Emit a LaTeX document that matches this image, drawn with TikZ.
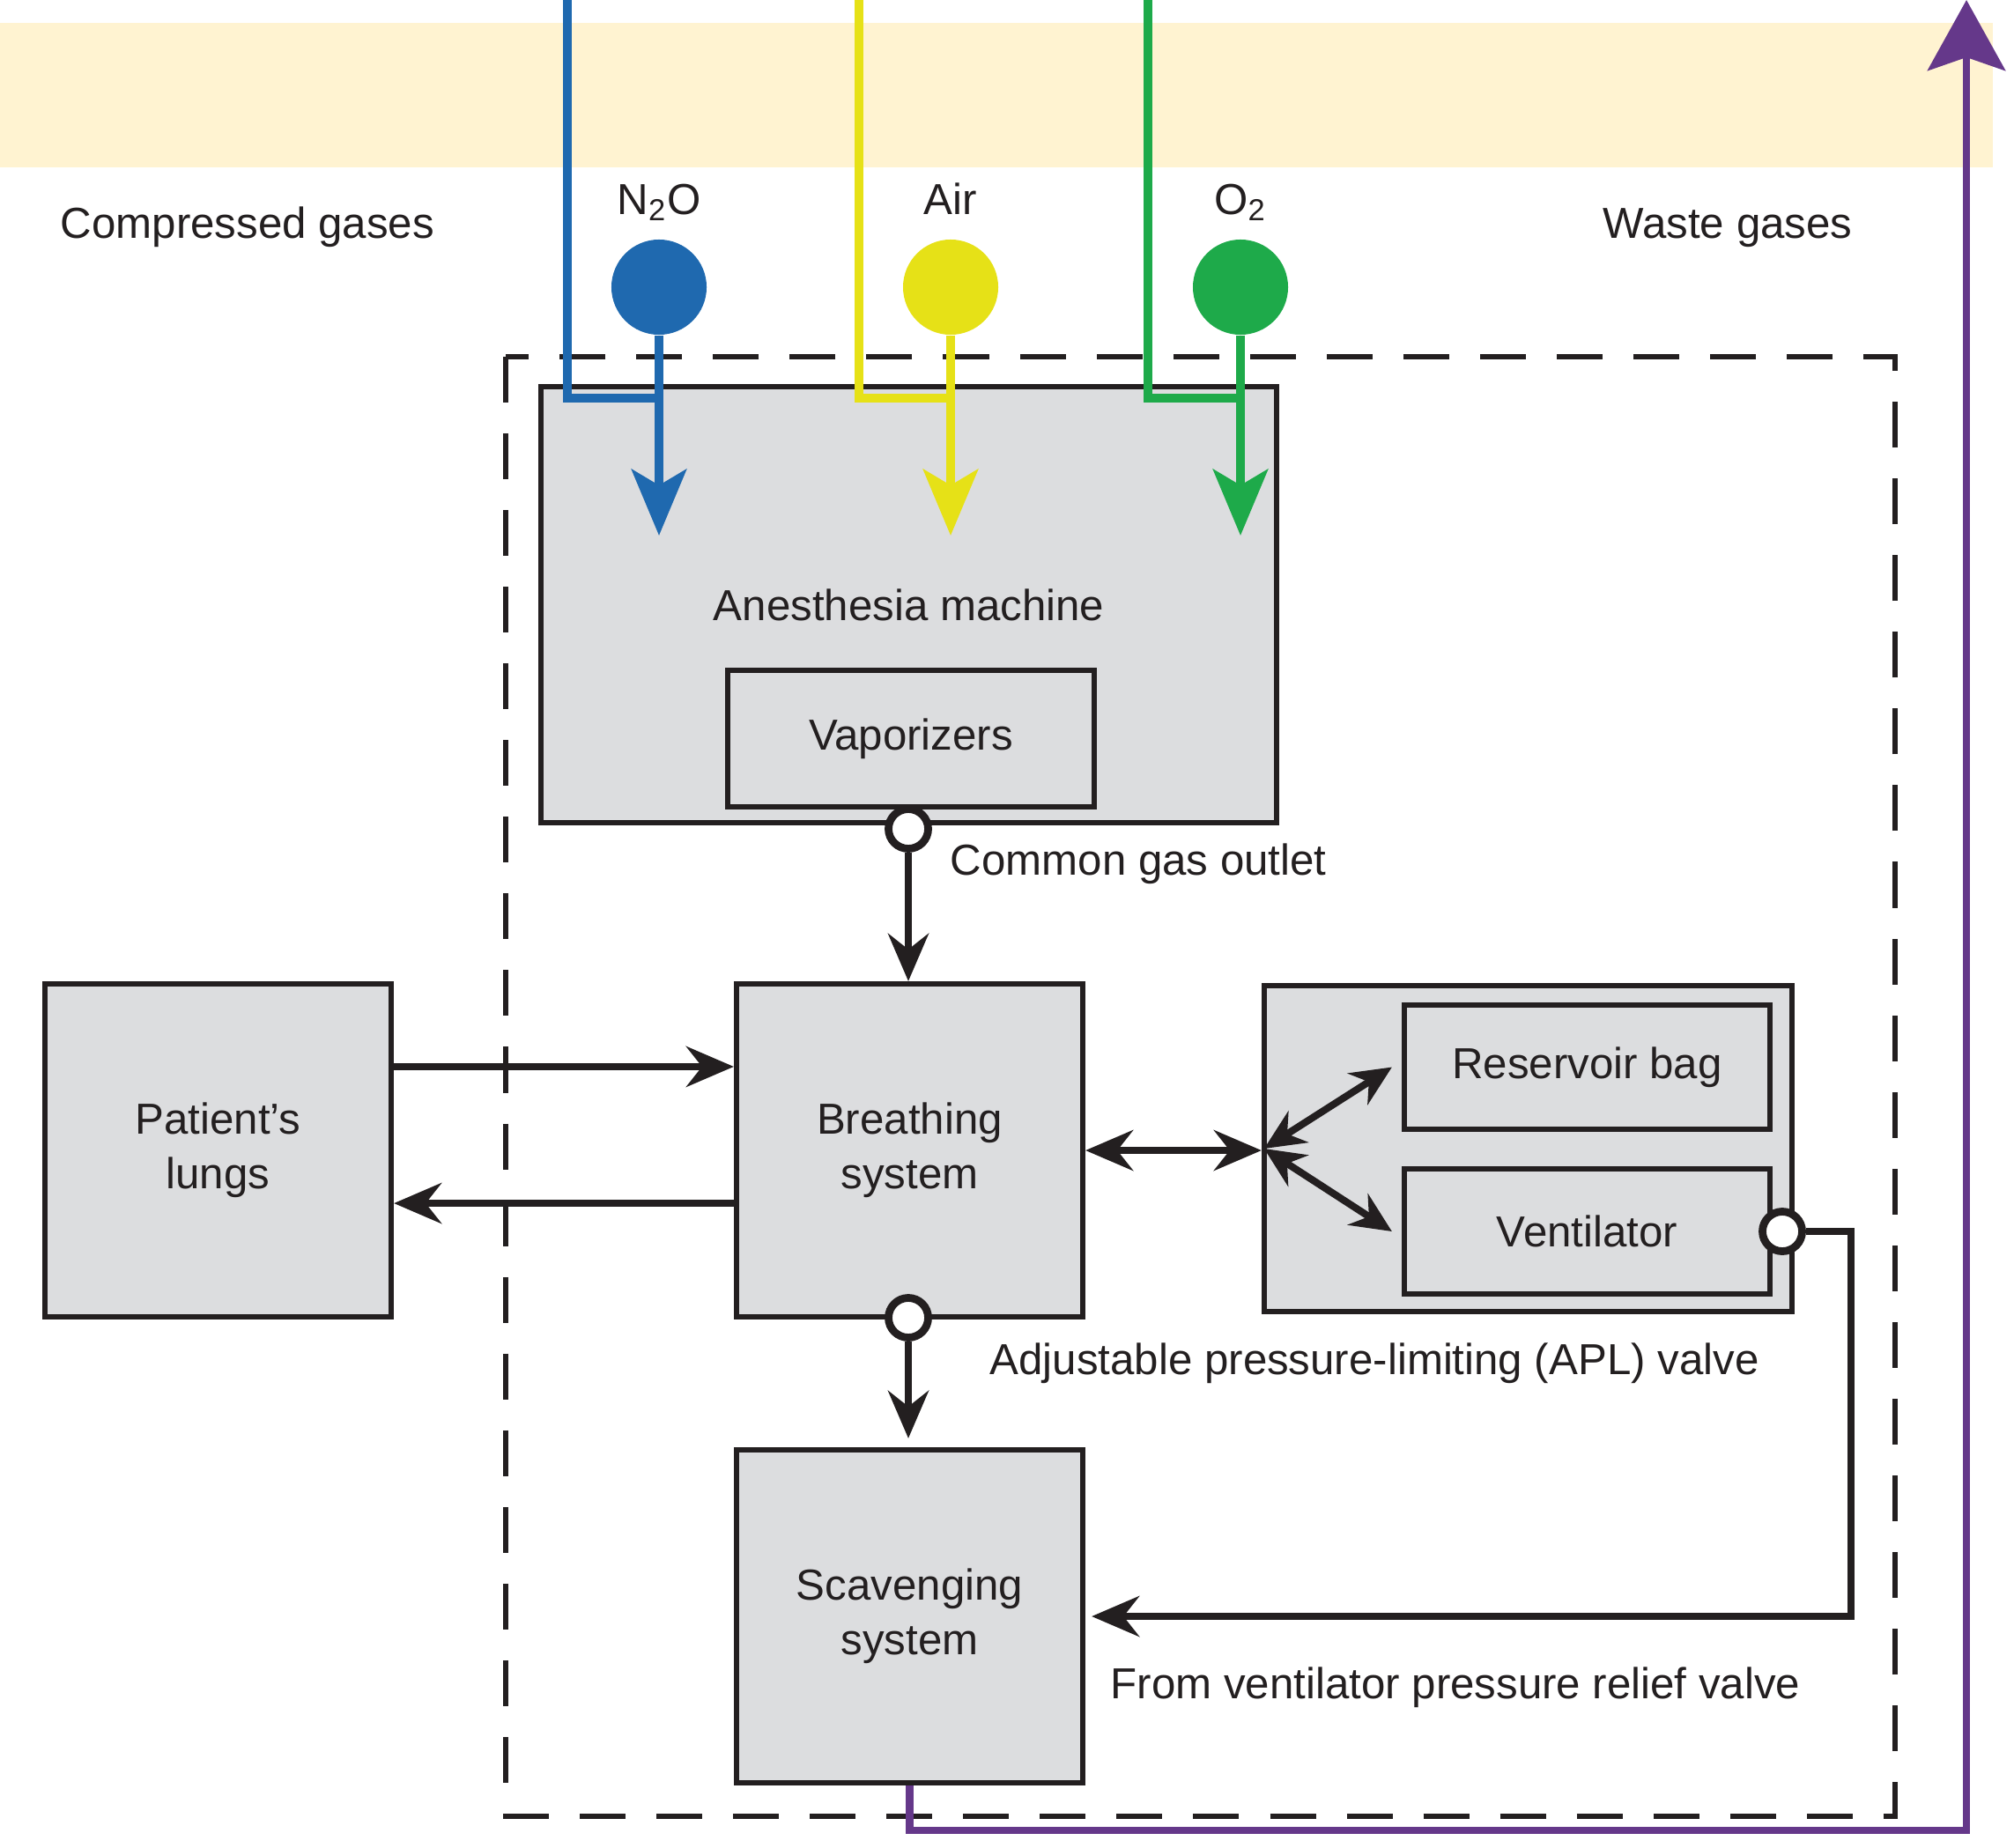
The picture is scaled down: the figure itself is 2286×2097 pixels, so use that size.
\documentclass[tikz,border=0pt]{standalone}
\usepackage{fontspec}
\setmainfont{Liberation Sans}
\usetikzlibrary{arrows.meta,calc}

\definecolor{bandyellow}{HTML}{FFF3D1}
\definecolor{boxgray}{HTML}{DCDDDF}
\definecolor{nblue}{HTML}{1F69AF}
\definecolor{airyellow}{HTML}{E6E117}
\definecolor{oxgreen}{HTML}{1EAA4A}
\definecolor{wastepurple}{HTML}{65388A}
\definecolor{ink}{HTML}{231F20}

\begin{document}
\begin{tikzpicture}[x=0.01cm,y=-0.01cm,>={Stealth[length=5.4mm,width=4.6mm,inset=1.8mm]},
  font=\fontsize{14}{17.6}\selectfont,text=ink,
  unit/.style={draw=ink,fill=boxgray,line width=1.7pt,align=center,inner sep=0pt},
  port/.style={circle,draw=ink,fill=white,line width=2.5pt,minimum size=0.45cm,inner sep=0pt},
  flow/.style={draw=ink,line width=2.3pt},
  hubtips/.style={{Stealth[length=4.6mm,width=4.2mm,inset=1.5mm]}-{Stealth[length=4.6mm,width=4.2mm,inset=1.5mm]}},
  gasdot/.style={circle,fill=#1,minimum size=1.08cm,inner sep=0pt},
  gasline/.style={draw=#1,line width=3pt},
  gastip/.style={-{Stealth[length=7.5mm,width=6.2mm,inset=1.8mm]}},
  note/.style={anchor=base west,inner sep=0pt},
  boundary/.style={draw=ink,line width=1.8pt,dash pattern=on 0.52cm off 0.35cm}]

  \useasboundingbox (0,0) rectangle (2286,2097);
  \fill[bandyellow] (0,26) rectangle (2262,190);
  \node[anchor=base,inner sep=0pt] (compressed) at (281,270) {Compressed gases};
  \node[anchor=base,inner sep=0pt] (waste) at (1961,270) {Waste gases};

  \draw[boundary] (574,405) rectangle (2151,2062);

  % machine side
  \node[unit,minimum width=8.35cm,minimum height=4.95cm] (machine) at (1031.5,686.5) {Anesthesia machine};
  \node[unit,minimum width=4.16cm,minimum height=1.55cm] (vapor) at (1034,838.5) {Vaporizers};

  % patient side
  \node[unit,minimum width=3.93cm,minimum height=3.78cm] (lungs) at (247.5,1306) {Patient's\\lungs};
  \node[unit,minimum width=3.93cm,minimum height=3.78cm] (breath) at (1032.5,1306) {Breathing\\system};
  \node[unit,minimum width=3.93cm,minimum height=3.78cm] (scav) at (1032.5,1835) {Scavenging\\system};
  \node[unit,minimum width=5.99cm,minimum height=3.70cm] (group) at (1734.5,1304) {};
  \node[unit,minimum width=4.15cm,minimum height=1.41cm] (bag) at (1801.5,1211.5) {Reservoir bag};
  \node[unit,minimum width=4.15cm,minimum height=1.42cm] (vent) at (1801.5,1398) {Ventilator};

  % gas supplies
  \foreach \gas/\col/\xin/\xcyl/\lbl in {n2o/nblue/644/748/N\textsubscript{2}O,air/airyellow/975/1079/Air,oxy/oxgreen/1303/1408/O\textsubscript{2}}{
    \node[gasdot=\col] (\gas) at (\xcyl,326) {};
    \node[anchor=base,inner sep=0pt] (\gas-name) at (\xcyl,243) {\lbl};
    \coordinate (\gas-in) at (\xin,0);
    \coordinate (\gas-join) at (\xcyl,452);
    \coordinate (\gas-tip) at (\xcyl,608);
    \draw[gasline=\col] (\gas-in) |- (\gas-join);
    \draw[gasline=\col,gastip] (\gas) -- (\gas-tip);
  }

  \node[port] (cgo) at (1031,941) {};
  \node[port] (apl) at (1031,1496) {};
  \node[port] (ventport) at (2023,1398) {};

  \draw[flow,->] (cgo) -- (cgo |- breath.north);
  \draw[flow,->] (apl) -- ([yshift=1mm]apl |- scav.north);
  \draw[flow,->] ([yshift=0.95cm]lungs.east) -- ([yshift=0.95cm]breath.west);
  \draw[flow,->] ([yshift=-0.6cm]breath.west) -- ([yshift=-0.6cm]lungs.east);
  \draw[flow,<->] (breath.east) -- (breath.east -| group.west);
  \coordinate (hub) at ($(group.west)+(3,0)$);
  \draw[flow,hubtips] (hub) -- ([xshift=-1.1mm]bag.west);
  \draw[flow,hubtips] (hub) -- ([xshift=-1.1mm]vent.west);
  \coordinate (relief) at (2101,1835);
  \draw[flow,->,shorten >=0.7mm] (ventport) -| (relief) -- (scav.east);

  % waste out
  \coordinate (wasteturn) at (2232,2078);
  \coordinate (wasteout) at (2232,0);
  \draw[gasline=wastepurple,line width=2.4pt,-{Stealth[length=8mm,width=8.8mm,inset=1.5mm]}] (scav.south) |- (wasteturn) -- (wasteout);

  \node[note] (cgo-text) at (1078,993) {Common gas outlet};
  \node[note] (apl-text) at (1123,1560) {Adjustable pressure-limiting (APL) valve};
  \node[note] (relief-text) at (1260,1928) {From ventilator pressure relief valve};
\end{tikzpicture}
\end{document}
